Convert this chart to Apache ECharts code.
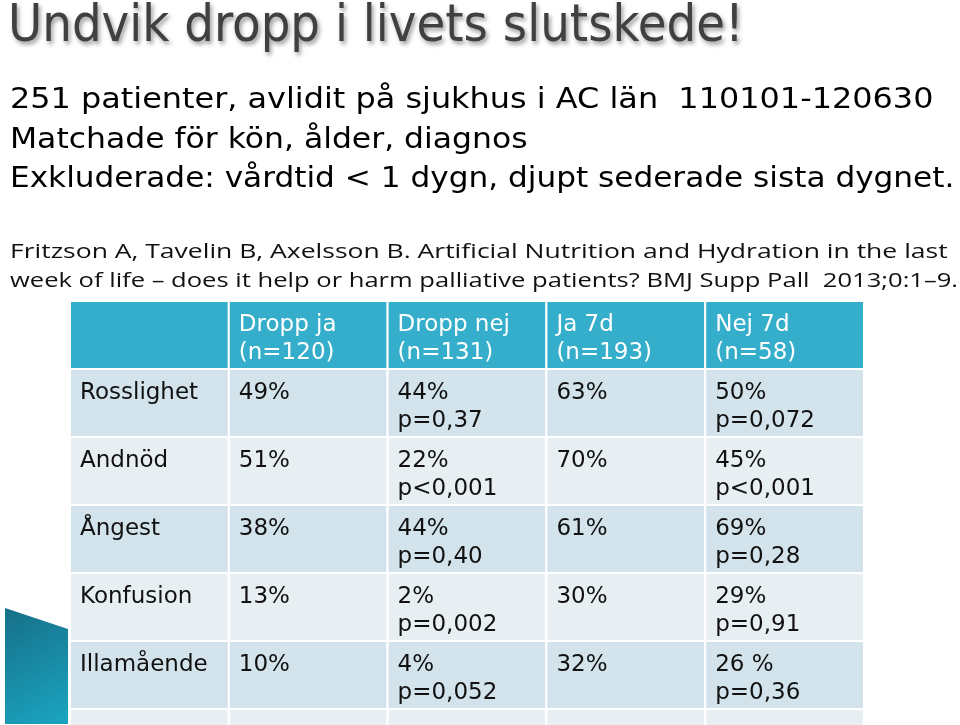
<!DOCTYPE html>
<html>
<head>
<meta charset="utf-8">
<script src="https://cdn.jsdelivr.net/npm/echarts@6/dist/echarts.min.js"></script>
<style>
html,body{margin:0;padding:0;background:#fff;}
#chart{width:960px;height:725px;}
</style>
</head>
<body>
<div id="chart"></div>
<script>
// ---- Data ----
var slideTitle = 'Undvik dropp i livets slutskede!';
var bodyLines = [
  '251 patienter, avlidit på sjukhus i AC län  110101-120630',
  'Matchade för kön, ålder, diagnos',
  'Exkluderade: vårdtid < 1 dygn, djupt sederade sista dygnet.'
];
var citationLines = [
  'Fritzson A, Tavelin B, Axelsson B. Artificial Nutrition and Hydration in the last',
  'week of life – does it help or harm palliative patients? BMJ Supp Pall  2013;0:1–9.'
];
var columnHeaders = ['', 'Dropp ja\n(n=120)', 'Dropp nej\n(n=131)', 'Ja 7d\n(n=193)', 'Nej 7d\n(n=58)'];
var symptoms = ['Rosslighet', 'Andnöd', 'Ångest', 'Konfusion', 'Illamående'];
var droppJa = ['49%', '51%', '38%', '13%', '10%'];
var droppNej = ['44%', '22%', '44%', '2%', '4%'];
var droppP = ['p=0,37', 'p<0,001', 'p=0,40', 'p=0,002', 'p=0,052'];
var ja7d = ['63%', '70%', '61%', '30%', '32%'];
var nej7d = ['50%', '45%', '69%', '29%', '26 %'];
var nej7dP = ['p=0,072', 'p<0,001', 'p=0,28', 'p=0,91', 'p=0,36'];

// ---- Build table cells ----
var rowNames = ['header'].concat(symptoms).concat(['']);
var cells = [];
var cellText = [];
for (var r = 0; r < rowNames.length; r++) {
  for (var c = 0; c < columnHeaders.length; c++) {
    var t = '';
    if (r === 0) t = columnHeaders[c];
    else if (r <= symptoms.length) {
      var i = r - 1;
      if (c === 0) t = symptoms[i];
      else if (c === 1) t = droppJa[i];
      else if (c === 2) t = droppNej[i] + '\n' + droppP[i];
      else if (c === 3) t = ja7d[i];
      else if (c === 4) t = nej7d[i] + '\n' + nej7dP[i];
    }
    cells.push([c, r]);
    cellText.push(t);
  }
}

var headerColor = '#35aecb';
var darkRow = '#d3e3eb';
var lightRow = '#e8eff3';

// text layout styles (not data)
var bodyY = [100, 140, 179];
var bodyScale = [1.10, 1.084, 1.074];
var citeY = [252, 281];
var citeScale = [1.325, 1.278];

var graphics = [
  {
    type: 'polygon',
    shape: {points: [[5, 608], [68, 629], [68, 724], [5, 724]]},
    style: {
      fill: new echarts.graphic.LinearGradient(0, 0, 1, 1, [
        {offset: 0, color: '#176f88'},
        {offset: 1, color: '#1aa5c1'}
      ])
    }
  },
  {
    type: 'text', x: 8, y: 27,
    style: {
      text: slideTitle, fill: '#404040',
      fontFamily: "'Liberation Sans Narrow','DejaVu Sans Condensed',sans-serif",
      fontSize: 52, verticalAlign: 'middle', align: 'left',
      textShadowColor: 'rgba(0,0,0,0.4)', textShadowBlur: 4, textShadowOffsetX: 2, textShadowOffsetY: 3
    }
  }
];
bodyLines.forEach(function (line, k) {
  graphics.push({
    type: 'text', x: 10, y: bodyY[k], scaleX: bodyScale[k],
    style: {
      text: line, fill: '#000000', fontFamily: "'DejaVu Sans',sans-serif",
      fontSize: 29, verticalAlign: 'middle', align: 'left'
    }
  });
});
citationLines.forEach(function (line, k) {
  graphics.push({
    type: 'text', x: 10, y: citeY[k], scaleX: citeScale[k],
    style: {
      text: line, fill: '#111111', fontFamily: "'Open Sans',sans-serif",
      fontSize: 20, verticalAlign: 'middle', align: 'left'
    }
  });
});

var chart = echarts.init(document.getElementById('chart'), null, {renderer: 'canvas'});
chart.setOption({
  backgroundColor: '#ffffff',
  animation: false,
  graphic: graphics,
  grid: {left: 70, top: 301, width: 794, height: 476, outerBoundsMode: 'none', containLabel: false},
  xAxis: {
    type: 'category', data: columnHeaders, show: false
  },
  yAxis: {
    type: 'category', data: rowNames, inverse: true, show: false
  },
  series: [{
    type: 'custom',
    clip: false,
    data: cells,
    renderItem: function (params, api) {
      var c = api.value(0), r = api.value(1);
      var p = api.coord([c, r]);
      var s = api.size([1, 1]);
      var x = p[0] - s[0] / 2, y = p[1] - s[1] / 2;
      var fill = r === 0 ? headerColor : (r % 2 === 1 ? darkRow : lightRow);
      var txt = cellText[params.dataIndex];
      return {
        type: 'group',
        children: [
          {type: 'rect', shape: {x: x, y: y, width: s[0], height: s[1]},
            style: {fill: fill, stroke: '#ffffff', lineWidth: 2}},
          {type: 'text', style: {
            text: txt, x: x + 10, y: y + 10,
            fill: r === 0 ? '#ffffff' : '#111111',
            fontFamily: "'DejaVu Sans',sans-serif", fontSize: 23, lineHeight: 28,
            verticalAlign: 'top', align: 'left'
          }}
        ]
      };
    }
  }]
});
</script>
</body>
</html>
